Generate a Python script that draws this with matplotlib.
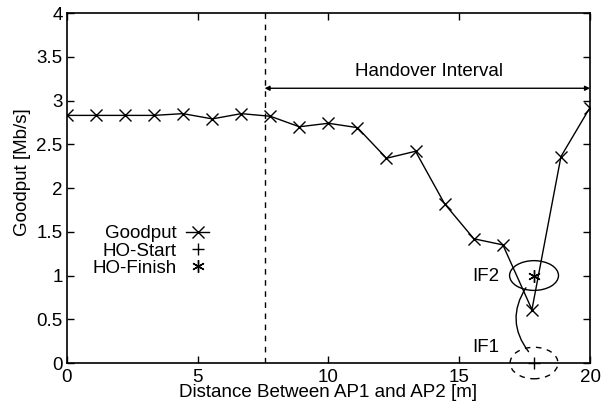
import matplotlib
matplotlib.use("Agg")
import matplotlib.pyplot as plt
from matplotlib.patches import Ellipse
from matplotlib.ticker import FormatStrFormatter
import numpy as np

plt.rcParams['font.family'] = ['Liberation Sans', 'DejaVu Sans']
plt.rcParams['font.size'] = 13.5

# Goodput measurements along the AP1-AP2 path
distance = [0, 1.11, 2.22, 3.33, 4.44, 5.56, 6.67, 7.78, 8.89, 10.0,
            11.11, 12.22, 13.33, 14.44, 15.56, 16.67, 17.78, 18.89, 20.0]
goodput = [2.83, 2.83, 2.83, 2.83, 2.85, 2.79, 2.85, 2.82, 2.70, 2.74,
           2.69, 2.34, 2.42, 1.82, 1.42, 1.35, 0.61, 2.36, 2.92]

# handover events
ho_start_x = [17.86]
ho_start_y = [0.0]
ho_finish_x = [17.86]
ho_finish_y = [1.0]

handover_begin = 7.56
handover_end = 20.0

fig = plt.figure(figsize=(6.13, 4.13), dpi=100)
ax = fig.add_axes([0.109, 0.121, 0.8535, 0.8475])

ax.plot(distance, goodput, color='black', lw=1, marker='x', ms=9, mew=1,
        label='Goodput')
ax.plot(ho_start_x, ho_start_y, ls='none', color='black', marker='+', ms=9,
        mew=1, label='HO-Start', clip_on=False)
ax.plot(ho_finish_x, ho_finish_y, ls='none', color='black', marker=(6, 2, 0),
        ms=9, mew=1, label='HO-Finish')

# handover interval
ax.axvline(handover_begin, color='black', ls=(0, (4, 4)), lw=1)
ax.annotate('', xy=(handover_begin, 3.14), xytext=(handover_end, 3.14),
            arrowprops=dict(arrowstyle='<|-|>', color='black', lw=1,
                            mutation_scale=7, shrinkA=0, shrinkB=0))
ax.text(13.85, 3.33, 'Handover Interval', ha='center', va='center')

# IF1 / IF2 annotations
ax.add_patch(Ellipse((17.86, 1.0), 1.87, 0.34, fill=False, color='black', lw=1))
ax.add_patch(Ellipse((17.86, 0.0), 1.83, 0.36, fill=False, color='black',
                     lw=1, ls=(0, (4, 4)), clip_on=False))
ax.annotate('', xy=(17.55, 0.86), xytext=(17.65, 0.13),
            arrowprops=dict(arrowstyle='-', color='black', lw=1,
                            connectionstyle='arc3,rad=-0.35',
                            shrinkA=0, shrinkB=0))
ax.text(16.53, 0.99, 'IF2', ha='right', va='center')
ax.text(16.53, 0.18, 'IF1', ha='right', va='center')

ax.set_xlim(0, 20)
ax.set_ylim(0, 4)
ax.set_xticks(np.arange(0, 21, 5))
ax.set_yticks(np.arange(0, 4.01, 0.5))
ax.xaxis.set_major_formatter(FormatStrFormatter('%g'))
ax.yaxis.set_major_formatter(FormatStrFormatter('%g'))
ax.tick_params(direction='in', top=True, right=True, length=5, width=1)
ax.tick_params(axis='y', pad=3)
ax.tick_params(axis='x', pad=4)
for s in ax.spines.values():
    s.set_linewidth(1.2)

ax.set_xlabel('Distance Between AP1 and AP2 [m]', labelpad=-1)
ax.set_ylabel('Goodput [Mb/s]')
ax.yaxis.set_label_coords(-0.069, 0.546)

ax.legend(loc='upper left', bbox_to_anchor=(0.035, 0.415), frameon=False,
          markerfirst=False, handlelength=1.2, handletextpad=0.5,
          labelspacing=0.0, borderaxespad=0)

fig.savefig('out.png', dpi=100)
